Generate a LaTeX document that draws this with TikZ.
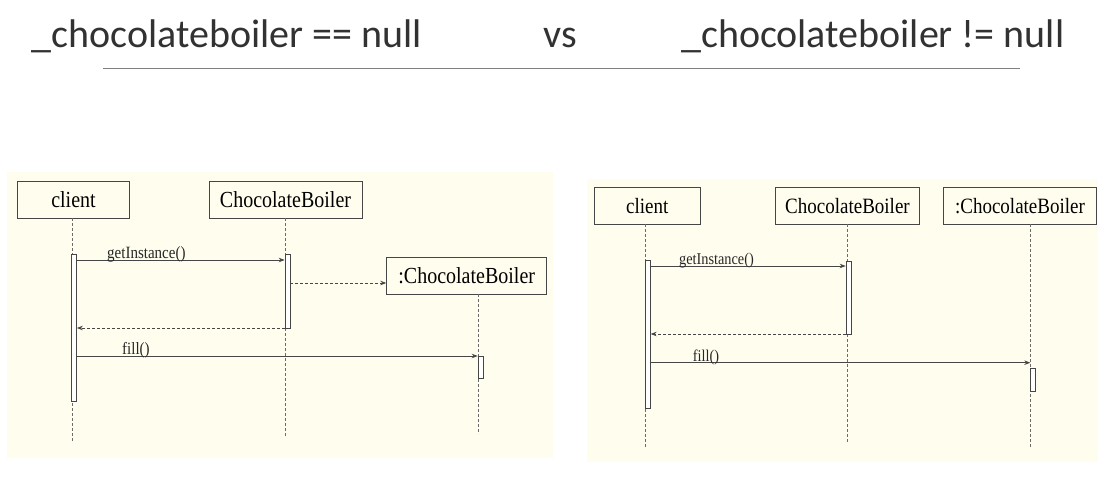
\documentclass[tikz,border=0pt]{standalone}
\usepackage{graphicx}
\usepackage{fontspec}
\setmainfont{Liberation Serif}
\newfontfamily\titlefont{Carlito}
\usetikzlibrary{arrows.meta,calc}
\definecolor{panelbg}{RGB}{255,254,238}
\definecolor{titlegray}{RGB}{50,50,50}
\definecolor{rulegray}{RGB}{128,128,128}
\definecolor{linegray}{RGB}{70,70,70}
\newcommand{\vstr}[1]{\scalebox{1}[1.15]{#1}}
\tikzset{
  x=1pt, y=-1pt,
  titletext/.style={font=\titlefont\fontsize{40}{44}\selectfont, text=titlegray, inner sep=0pt, anchor=base west},
  objbox/.style={draw=linegray, line width=0.8pt, fill=panelbg, inner sep=0pt, rectangle, text=black, font=\fontsize{#1}{#1}\selectfont},
  actbox/.style={draw=linegray, line width=0.7pt, fill=white, inner sep=0pt, rectangle},
  lifeline/.style={draw=linegray!80, line width=0.8pt, dash pattern=on 3pt off 2pt},
  msg/.style={draw=linegray, line width=0.8pt, -{Stealth[length=6pt,width=4.5pt]}},
  retmsg/.style={msg, dash pattern=on 3pt off 2pt},
  msglabel/.style={inner sep=0pt, anchor=base west, text=black!85, font=\fontsize{#1}{#1}\selectfont},
}
\begin{document}
\begin{tikzpicture}
\useasboundingbox (0,0) rectangle (1104,482);
\fill[white] (0,0) rectangle (1104,482);

% title
\node[titletext] (t1) at (31.7,47) {\_chocolateboiler == null};
\node[titletext] (t2) at (543,47) {vs};
\node[titletext] (t3) at (681,47) {\_chocolateboiler != null};
\draw[rulegray, line width=0.9pt] (103,68) -- (1020,68);

% ===== left panel =====
\fill[panelbg] (7,172) rectangle (553,458);
\node[objbox=20, minimum width=112pt, minimum height=37pt] (cl1) at (73.5,199.5) {\vstr{client}};
\node[objbox=20, minimum width=153pt, minimum height=37pt] (cb1) at (285.5,199.5) {\vstr{ChocolateBoiler}};
\node[objbox=20, minimum width=160pt, minimum height=37pt] (ob1) at (466.7,275.5) {\vstr{:ChocolateBoiler}};

\coordinate (cl1top) at (72,218);   \coordinate (cl1end) at (72,442);
\coordinate (cb1top) at (285,218);  \coordinate (cb1end) at (285,436);
\coordinate (ob1top) at (478.5,294); \coordinate (ob1end) at (478.5,434);
\draw[lifeline] (cl1top) -- (cl1end);
\draw[lifeline] (cb1top) -- (cb1end);
\draw[lifeline] (ob1top) -- (ob1end);

\node[actbox, minimum width=4.8pt, minimum height=147pt] (a1) at (74.1,327.7) {};
\node[actbox, minimum width=5pt, minimum height=74pt] (a2) at (287.5,291.3) {};
\node[actbox, minimum width=5.7pt, minimum height=22.7pt] (a3) at (480.9,367.4) {};

\draw[msg] (a1.east |- 0,260) -- (a2.west |- 0,260);
\node[msglabel=15] (l1) at (107,258.5) {\vstr{getInstance()}};
\draw[retmsg] (a2.east |- 0,283) -- (ob1.west |- 0,283);
\draw[retmsg] (a2.west |- 0,328) -- (a1.east |- 0,328);
\draw[msg] (a1.east |- 0,356) -- (a3.west |- 0,356);
\node[msglabel=15] (l2) at (122,354.5) {\vstr{fill()}};

% ===== right panel =====
\fill[panelbg] (587.3,179) rectangle (1098,461.7);
\node[objbox=19, minimum width=105.7pt, minimum height=36.7pt] (cl2) at (647.2,205.7) {\vstr{client}};
\node[objbox=19, minimum width=143.6pt, minimum height=36.7pt] (cb2) at (847.5,205.7) {\vstr{ChocolateBoiler}};
\node[objbox=19, minimum width=153.4pt, minimum height=36.7pt] (ob2) at (1020,205.7) {\vstr{:ChocolateBoiler}};

\coordinate (cl2top) at (645.7,224);  \coordinate (cl2end) at (645.7,447.3);
\coordinate (cb2top) at (847,224);    \coordinate (cb2end) at (847,442.7);
\coordinate (ob2top) at (1030.3,224); \coordinate (ob2end) at (1030.3,447.3);
\draw[lifeline] (cl2top) -- (cl2end);
\draw[lifeline] (cb2top) -- (cb2end);
\draw[lifeline] (ob2top) -- (ob2end);

\node[actbox, minimum width=4.6pt, minimum height=148.3pt] (b1) at (648,334.2) {};
\node[actbox, minimum width=5.7pt, minimum height=73.3pt] (b2) at (848.9,297.7) {};
\node[actbox, minimum width=5pt, minimum height=23pt] (b3) at (1032.8,379.8) {};

\draw[msg] (b1.east |- 0,266) -- (b2.west |- 0,266);
\node[msglabel=14.3] (l3) at (679,264.5) {\vstr{getInstance()}};
\draw[retmsg] (b2.west |- 0,334) -- (b1.east |- 0,334);
\draw[msg] (b1.east |- 0,362.7) -- (ob2top |- 0,362.7);
\node[msglabel=14.3] (l4) at (692.7,361.2) {\vstr{fill()}};
\end{tikzpicture}
\end{document}
